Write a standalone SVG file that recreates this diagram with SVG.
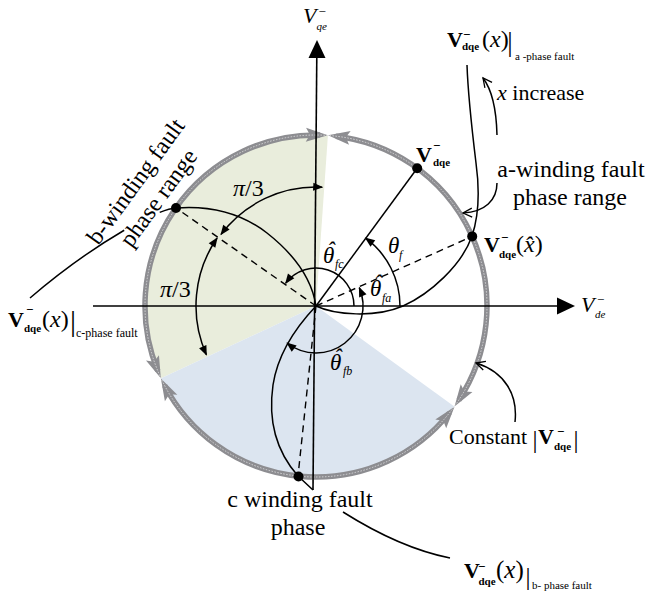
<svg xmlns="http://www.w3.org/2000/svg" width="646" height="596" viewBox="0 0 646 596" font-family="Liberation Serif, DejaVu Serif, serif">
<defs>
<style>
text{font-family:'Liberation Serif','DejaVu Serif',serif;fill:#000}
.b{font-weight:bold}
.i{font-style:italic}
.ln{fill:none;stroke:#000;stroke-width:1.5}
.dash{fill:none;stroke:#000;stroke-width:1.4;stroke-dasharray:7 5}
.ring{fill:none;stroke:#8d8d91;stroke-width:5.5}
</style>
<marker id="ah" markerUnits="userSpaceOnUse" viewBox="-12 -6 14 12" markerWidth="14" markerHeight="12" refX="0" refY="0" orient="auto-start-reverse">
<path d="M1,0 L-9,-4 L-9,4 Z" fill="#000"/>
</marker>
<marker id="oa" markerUnits="userSpaceOnUse" viewBox="-12 -7 14 14" markerWidth="14" markerHeight="14" refX="0" refY="0" orient="auto">
<path d="M-9,-4.5 L0,0 L-9,4.5" fill="none" stroke="#000" stroke-width="1.3"/>
</marker>
<marker id="ga" markerUnits="userSpaceOnUse" viewBox="-20 -10 30 20" markerWidth="30" markerHeight="20" refX="0" refY="0" orient="auto-start-reverse">
<path d="M8,0 L-14,-7 L-10,0 L-14,7 Z" fill="#8d8d91"/>
</marker>
</defs>
<rect width="646" height="596" fill="#fff"/>

<g id="sectors">
<path d="M316,306 L327.9,135.4 A171,171 0 0 0 161,378.3 Z" fill="#e9eddc"/>
<path d="M316,306 L161,378.3 A171,171 0 0 0 454.3,406.5 Z" fill="#dce5f0"/>
</g>

<g id="ring">
<path class="ring" d="M458.9,399.9 A171,171 0 0 0 335.95,136.2" marker-start="url(#ga)" marker-end="url(#ga)"/>
<path class="ring" d="M319.9,135.0 A171,171 0 0 0 157.8,370.9" marker-start="url(#ga)" marker-end="url(#ga)"/>
<path class="ring" d="M164.6,385.5 A171,171 0 0 0 449.5,412.9" marker-start="url(#ga)" marker-end="url(#ga)"/>
<circle cx="316" cy="306" r="171" fill="none" stroke="#e4e4e6" stroke-width="0.8" stroke-dasharray="1.5 1.5"/>
</g>

<g id="axes">
<line x1="93" y1="306" x2="558" y2="306" stroke="#000" stroke-width="1.6"/>
<polygon points="575,306 557,297.5 557,314.5" fill="#000"/>
<line x1="313" y1="490" x2="316.8" y2="56" stroke="#000" stroke-width="1.6"/>
<polygon points="317,40 308.5,58 325.5,58" fill="#000"/>
</g>

<g id="connectors">
<line class="ln" x1="316" y1="306" x2="417.2" y2="168.2"/>
<line class="dash" x1="316" y1="306" x2="472.2" y2="236.4"/>
<line class="dash" x1="316" y1="306" x2="176" y2="208"/>
<line class="dash" x1="316" y1="306" x2="298" y2="476"/>
<path class="ln" d="M400,306 A84,84 0 0 0 365.6,238.2" marker-end="url(#ah)"/>
<path class="ln" d="M354,306 A38,38 0 0 0 285.7,283.1" marker-end="url(#ah)"/>
<path class="ln" d="M359.3,287.6 A47,47 0 0 1 287.1,343" marker-start="url(#ah)" marker-end="url(#ah)"/>
<path class="ln" d="M322.2,187.2 A119,119 0 0 0 221,234.4" marker-start="url(#ah)" marker-end="url(#ah)"/>
<path class="ln" d="M217.1,238 A120,120 0 0 0 206.4,354.8" marker-start="url(#ah)" marker-end="url(#ah)"/>
<path class="ln" d="M316,306 C335,315 375,318 403,306 C430,294 462,265 472,236 C480,212 479,185 476,163 C472,130 468,95 467,65"/>
<path class="ln" d="M316,306 C312,280 295,255 267,233 C245,216 215,205 176,208"/>
<path class="ln" d="M176,208 C150,210 80,255 30,298" stroke-dasharray="17 40 300"/>
<path class="ln" d="M316,306 C298,325 278,352 273,385 C268,420 275,450 298,476 L313,490"/>
<path class="ln" d="M343,512 Q400,548 450,558"/>
<path class="ln" stroke-width="1.3" d="M497,135 Q496,95 483,78" marker-end="url(#oa)"/>
<path class="ln" stroke-width="1.3" d="M497,183 C497,200 485,212 463,213" marker-end="url(#oa)"/>
<path class="ln" stroke-width="1.3" d="M515,422 C518,395 505,372 476,363" marker-end="url(#oa)"/>
</g>

<g id="dots">
<circle cx="417.2" cy="168.2" r="5"/>
<circle cx="472.2" cy="236.4" r="5"/>
<circle cx="176" cy="208" r="5"/>
<circle cx="298.5" cy="476.5" r="5"/>
</g>

<g id="axis-labels">
<text><tspan class="i" x="581" y="312" font-size="22">V</tspan><tspan x="597" y="303.5" font-size="13">−</tspan><tspan class="i" x="595" y="318" font-size="11">de</tspan></text>
<text><tspan class="i" x="303" y="23" font-size="22">V</tspan><tspan x="318.5" y="15.5" font-size="13">−</tspan><tspan class="i" x="316.5" y="30" font-size="11">qe</tspan></text>
</g>

<g id="vector-labels">
<text><tspan class="b" x="416" y="162" font-size="22">V</tspan><tspan class="b" x="433" y="150" font-size="13">−</tspan><tspan class="b" x="433" y="166" font-size="11">dqe</tspan></text>
<text><tspan class="b" x="484" y="252" font-size="22">V</tspan><tspan class="b" x="501" y="241.5" font-size="13">−</tspan><tspan class="b" x="499" y="258" font-size="11">dqe</tspan><tspan x="516" y="252" font-size="24">(</tspan><tspan class="i" font-size="24">x̂</tspan><tspan font-size="24">)</tspan></text>
</g>

<g id="locus-a-label">
<text><tspan class="b" x="447" y="47" font-size="22">V</tspan><tspan class="b" x="463" y="38.5" font-size="13">−</tspan><tspan class="b" x="462" y="50" font-size="11">dqe</tspan><tspan x="482" y="47" font-size="24">(</tspan><tspan class="i" font-size="24">x</tspan><tspan font-size="24">)</tspan><tspan x="507.2" y="51" font-size="27">|</tspan><tspan x="515" y="60" font-size="11">a -phase fault</tspan></text>
</g>
<g id="locus-c-label">
<text><tspan class="b" x="8" y="327" font-size="22">V</tspan><tspan class="b" x="26" y="314" font-size="13">−</tspan><tspan class="b" x="24" y="332" font-size="11">dqe</tspan><tspan x="42" y="327" font-size="24">(</tspan><tspan class="i" font-size="24">x</tspan><tspan font-size="24">)</tspan><tspan x="70" y="330.5" font-size="30">|</tspan><tspan x="76" y="337" font-size="12">c-phase fault</tspan></text>
</g>
<g id="locus-b-label">
<text><tspan class="b" x="464" y="578" font-size="22">V</tspan><tspan class="b" x="478" y="571" font-size="13">−</tspan><tspan class="b" x="478.5" y="585" font-size="11">dqe</tspan><tspan x="496" y="578" font-size="25">(</tspan><tspan class="i" font-size="25">x</tspan><tspan font-size="25">)</tspan><tspan x="525.5" y="584.5" font-size="25">|</tspan><tspan x="532" y="589" font-size="11">b- phase fault</tspan></text>
</g>

<g id="angle-labels">
<text><tspan class="i" x="323" y="263" font-size="23">θ</tspan><tspan class="i" x="327" y="258" font-size="23">ˆ</tspan><tspan class="i" x="335" y="268" font-size="12">fc</tspan></text>
<text><tspan class="i" x="388" y="253" font-size="23">θ</tspan><tspan class="i" x="399" y="259" font-size="12">f</tspan></text>
<text><tspan class="i" x="370" y="296" font-size="23">θ</tspan><tspan class="i" x="374" y="291" font-size="23">ˆ</tspan><tspan class="i" x="382" y="302" font-size="12">fa</tspan></text>
<text><tspan class="i" x="330" y="370" font-size="23">θ</tspan><tspan class="i" x="334" y="365" font-size="23">ˆ</tspan><tspan class="i" x="343" y="375" font-size="12">fb</tspan></text>
<text x="233" y="196" font-size="24"><tspan class="i">π</tspan>/3</text>
<text x="160" y="297" font-size="24"><tspan class="i">π</tspan>/3</text>
</g>

<g id="range-labels">
<text x="571" y="177" font-size="24" text-anchor="middle">a-winding fault</text>
<text x="570" y="205" font-size="24" text-anchor="middle">phase range</text>
<g transform="translate(142,186) rotate(-54)">
<text x="0" y="0" font-size="24" text-anchor="middle">b-winding fault</text>
<text x="0" y="28" font-size="24" text-anchor="middle">phase range</text>
</g>
<text x="300" y="507" font-size="24" text-anchor="middle">c winding fault</text>
<text x="298" y="535" font-size="24" text-anchor="middle">phase</text>
<text x="497" y="100" font-size="22"><tspan class="i">x</tspan> increase</text>
<text><tspan x="449" y="444" font-size="22">Constant</tspan><tspan x="532.5" y="447.5" font-size="25">|</tspan><tspan class="b" x="538" y="444" font-size="22">V</tspan><tspan class="b" x="557" y="436" font-size="13">−</tspan><tspan class="b" x="554" y="450" font-size="11">dqe</tspan><tspan x="573.5" y="447.5" font-size="25">|</tspan></text>
</g>
</svg>
